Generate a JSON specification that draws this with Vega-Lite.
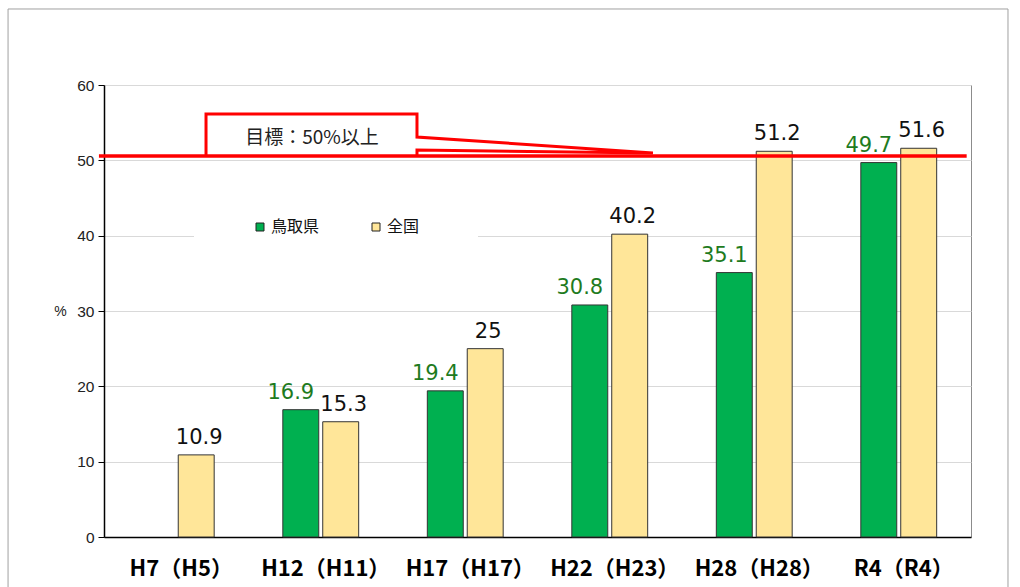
{
  "$schema": "https://vega.github.io/schema/vega-lite/v6.json",
  "autosize": "none",
  "width": 867,
  "height": 452,
  "padding": {"left": 104, "top": 85, "right": 49, "bottom": 50},
  "background": "white",
  "config": {"view": {"stroke": "#8c8c8c", "strokeWidth": 1}, "font": "Noto Sans CJK JP"},
  "datasets": {
    "bars": [
      {"年次": "H7（H5）", "系列": "全国", "値": 10.9},
      {"年次": "H12（H11）", "系列": "鳥取県", "値": 16.9},
      {"年次": "H12（H11）", "系列": "全国", "値": 15.3},
      {"年次": "H17（H17）", "系列": "鳥取県", "値": 19.4},
      {"年次": "H17（H17）", "系列": "全国", "値": 25},
      {"年次": "H22（H23）", "系列": "鳥取県", "値": 30.8},
      {"年次": "H22（H23）", "系列": "全国", "値": 40.2},
      {"年次": "H28（H28）", "系列": "鳥取県", "値": 35.1},
      {"年次": "H28（H28）", "系列": "全国", "値": 51.2},
      {"年次": "R4（R4）", "系列": "鳥取県", "値": 49.7},
      {"年次": "R4（R4）", "系列": "全国", "値": 51.6}
    ],
    "callout": [
      {"i": 0, "px": 0.706, "py": 50.58},
      {"i": 1, "px": 0.706, "py": 56.15},
      {"i": 2, "px": 2.166, "py": 56.15},
      {"i": 3, "px": 2.166, "py": 53.10},
      {"i": 4, "px": 3.799, "py": 50.97},
      {"i": 5, "px": 2.166, "py": 51.37},
      {"i": 6, "px": 2.166, "py": 50.58}
    ],
    "one": [{"k": 1}]
  },
  "resolve": {"scale": {"x": "independent"}},
  "layer": [
    {
      "data": {"name": "one"},
      "mark": {"type": "rect", "filled": false, "fill": "transparent", "stroke": "#a0a0a0", "strokeWidth": 1},
      "encoding": {
        "x": {"datum": -0.664, "type": "quantitative", "scale": {"domain": [0, 6], "nice": false, "zero": false}, "axis": null},
        "x2": {"datum": 6.256},
        "y": {"datum": 70.09, "type": "quantitative", "scale": {"domain": [0, 60], "nice": false}},
        "y2": {"datum": -10}
      }
    },
    {
      "data": {"name": "bars"},
      "encoding": {
        "x": {
          "field": "年次", "type": "nominal", "sort": null,
          "scale": {"paddingInner": 0.475, "paddingOuter": 0.2375},
          "axis": {"title": null, "labelAngle": 0, "labelFontSize": 22, "labelFontWeight": "bold", "labelColor": "#000", "labelPadding": 21, "labelOffset": 5, "ticks": false, "domainColor": "#000", "domainWidth": 1.5, "labelFont": "Noto Sans CJK JP"}
        },
        "xOffset": {"field": "系列", "type": "nominal", "scale": {"domain": ["鳥取県", "全国"], "paddingInner": 0.1}},
        "y": {
          "field": "値", "type": "quantitative",
          "scale": {"domain": [0, 60], "nice": false},
          "axis": {"title": "%", "titleAngle": 0, "titleX": -44, "titleY": 226, "titleAlign": "center", "titleBaseline": "middle", "titleFontSize": 14, "titleFontWeight": "normal", "titleColor": "#222", "titleFont": "Liberation Sans",
            "grid": true, "values": [0, 10, 20, 30, 40, 50, 60], "labelFont": "Liberation Sans", "labelFontSize": 15.5, "labelColor": "#222", "labelPadding": 4, "tickSize": 6, "tickColor": "#000", "domainColor": "#000", "domainWidth": 1.5, "gridColor": "#d9d9d9", "gridWidth": 1}
        }
      },
      "layer": [
        {
          "mark": {"type": "bar", "stroke": "#333", "strokeWidth": 1},
          "encoding": {
            "color": {
              "field": "系列", "type": "nominal",
              "scale": {"domain": ["鳥取県", "全国"], "range": ["#00B050", "#FFE699"]},
              "legend": {"title": null, "orient": "none", "legendX": 90, "legendY": 76, "direction": "horizontal", "columns": 2, "columnPadding": 48, "symbolType": "square", "symbolSize": 64, "symbolStrokeColor": "#222", "symbolStrokeWidth": 1, "symbolOffset": 0, "labelFontSize": 16, "labelColor": "#111", "labelFont": "Noto Sans CJK JP", "labelOffset": 3, "fillColor": "white", "padding": 58}
            }
          }
        },
        {
          "transform": [{"filter": "datum['系列'] === '鳥取県'"}],
          "mark": {"type": "text", "baseline": "alphabetic", "dy": -11, "dx": -10, "fontSize": 21, "color": "#1E7B1E", "font": "DejaVu Sans"},
          "encoding": {"text": {"field": "値", "type": "quantitative"}}
        },
        {
          "transform": [{"filter": "datum['系列'] === '全国'"}],
          "mark": {"type": "text", "baseline": "alphabetic", "dy": -11, "dx": 3, "fontSize": 21, "color": "#111", "font": "DejaVu Sans"},
          "encoding": {"text": {"field": "値", "type": "quantitative"}}
        }
      ]
    },
    {
      "data": {"name": "one"},
      "mark": {"type": "rect", "fill": "white"},
      "encoding": {
        "x": {"datum": 0.706, "type": "quantitative", "scale": {"domain": [0, 6], "nice": false, "zero": false}, "axis": null},
        "x2": {"datum": 2.166},
        "y": {"datum": 50.58, "type": "quantitative", "scale": {"domain": [0, 60], "nice": false}},
        "y2": {"datum": 56.15}
      }
    },
    {
      "data": {"name": "callout"},
      "mark": {"type": "line", "color": "#FF0000", "strokeWidth": 3, "strokeJoin": "miter"},
      "encoding": {
        "x": {"field": "px", "type": "quantitative", "scale": {"domain": [0, 6], "nice": false, "zero": false}, "axis": null},
        "y": {"field": "py", "type": "quantitative", "scale": {"domain": [0, 60], "nice": false}},
        "order": {"field": "i", "type": "quantitative"}
      }
    },
    {
      "data": {"name": "one"},
      "mark": {"type": "rule", "color": "#FF0000", "strokeWidth": 3.5},
      "encoding": {
        "x": {"datum": -0.035, "type": "quantitative", "scale": {"domain": [0, 6], "nice": false, "zero": false}, "axis": null},
        "x2": {"datum": 5.97},
        "y": {"datum": 50.58, "type": "quantitative", "scale": {"domain": [0, 60], "nice": false}}
      }
    },
    {
      "data": {"name": "one"},
      "mark": {"type": "text", "text": "目標：50%以上", "fontSize": 19, "color": "#222", "font": "Noto Sans CJK JP", "baseline": "middle", "align": "center"},
      "encoding": {
        "x": {"datum": 1.44, "type": "quantitative", "scale": {"domain": [0, 6], "nice": false, "zero": false}, "axis": null},
        "y": {"datum": 52.97, "type": "quantitative", "scale": {"domain": [0, 60], "nice": false}}
      }
    }
  ]
}
